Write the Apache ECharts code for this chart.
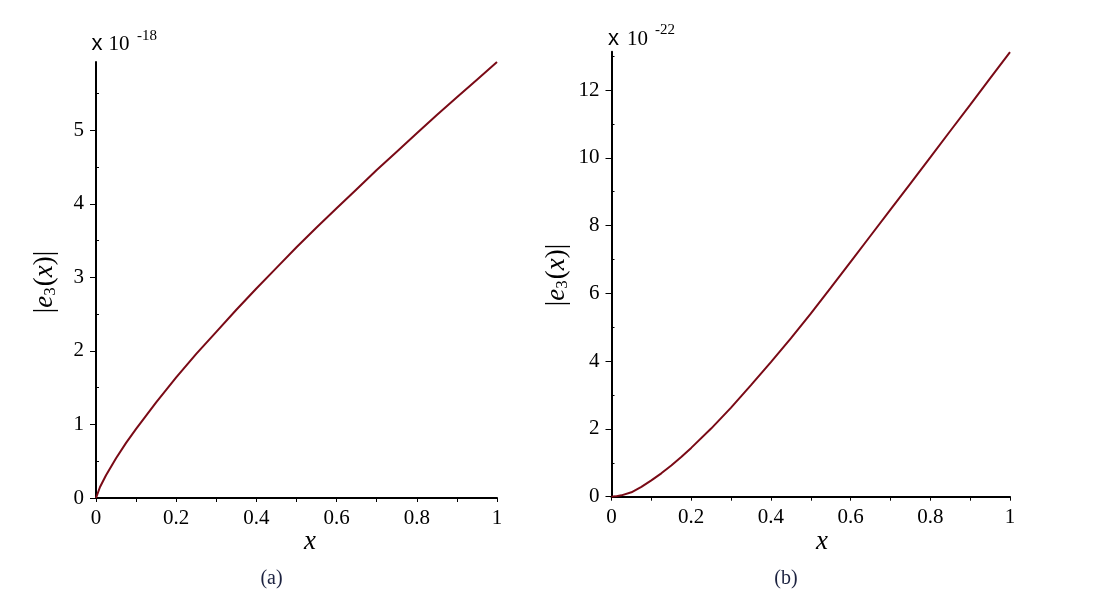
<!DOCTYPE html>
<html>
<head>
<meta charset="utf-8">
<script src="https://cdn.jsdelivr.net/npm/echarts@6/dist/echarts.min.js"></script>
<style>
html,body{margin:0;padding:0;background:#fff;}
#chart{width:1112px;height:602px;}
</style>
</head>
<body>
<div id="chart"></div>
<script>
// ---- data ----
const xValues = [0, 0.01, 0.025, 0.05, 0.075, 0.1, 0.125, 0.15, 0.175, 0.2, 0.25, 0.3, 0.35, 0.4, 0.45, 0.5, 0.55, 0.6, 0.65, 0.7, 0.75, 0.8, 0.85, 0.9, 0.95, 1];
// panel (a): |e3(x)| in units of 1e-18
const errA = [0, 0.15, 0.31, 0.54, 0.75, 0.94, 1.12, 1.30, 1.47, 1.64, 1.96, 2.26, 2.56, 2.85, 3.13, 3.41, 3.68, 3.94, 4.20, 4.46, 4.71, 4.96, 5.21, 5.45, 5.69, 5.93];
// panel (b): |e3(x)| in units of 1e-22
const errB = [0, 0.01, 0.04, 0.13, 0.29, 0.48, 0.69, 0.92, 1.17, 1.44, 2.01, 2.63, 3.29, 3.97, 4.67, 5.40, 6.16, 6.93, 7.70, 8.47, 9.24, 10.01, 10.79, 11.56, 12.34, 13.12];
const xTicks = [0, 0.1, 0.2, 0.3, 0.4, 0.5, 0.6, 0.7, 0.8, 0.9, 1];
const xLabels = [0, 0.2, 0.4, 0.6, 0.8, 1];
const yMajorA = [0, 1, 2, 3, 4, 5];
const yMinorA = [0.5, 1.5, 2.5, 3.5, 4.5, 5.5];
const yMajorB = [0, 2, 4, 6, 8, 10, 12];
const yMinorB = [1, 3, 5, 7, 9, 11, 13];
const yMaxA = 5.93;
const yMaxB = 13.13;
const exponentA = '-18';
const exponentB = '-22';
const captions = ['(a)', '(b)'];

const serif = '"Liberation Serif", "DejaVu Serif", serif';
const sans = '"Liberation Sans", Arial, sans-serif';
const lineColor = '#7a0a16';

function pairs(xs, ys) { return xs.map((x, i) => [x, ys[i]]); }

function xAxisFor(gridIndex) {
  return {
    type: 'value', gridIndex, min: 0, max: 1,
    axisLine: { show: true, onZero: false, lineStyle: { color: '#000', width: 2 } },
    axisTick: { show: true, customValues: xTicks, length: 4, inside: false, lineStyle: { color: '#000', width: 1 } },
    axisLabel: {
      customValues: xLabels,
      color: '#000', fontFamily: serif, fontSize: 21, margin: 10,
      formatter: v => String(Math.round(v * 10) / 10)
    },
    splitLine: { show: false }
  };
}
function yAxesFor(gridIndex, max, majors, minors) {
  return [
    {
      type: 'value', gridIndex, min: 0, max: max,
      axisLine: { show: true, onZero: false, lineStyle: { color: '#000', width: 2 } },
      axisTick: { show: true, customValues: majors, length: 6, lineStyle: { color: '#000', width: 1 } },
      axisLabel: { customValues: majors, color: '#000', fontFamily: serif, fontSize: 21, margin: 12 },
      splitLine: { show: false }
    },
    {
      type: 'value', gridIndex, min: 0, max: max,
      axisLine: { show: false },
      axisTick: { show: true, customValues: minors, length: 3, lineStyle: { color: '#000', width: 1 } },
      axisLabel: { show: false },
      splitLine: { show: false }
    }
  ];
}

function yName(cx, cy) {
  return {
    type: 'text', x: cx, y: cy, rotation: Math.PI / 2,
    style: {
      text: '{n||}{i|e}{s|3}{n|(}{i|x}{n|)|}',
      align: 'center', verticalAlign: 'middle',
      rich: {
        n: { fontFamily: serif, fontSize: 27, color: '#000' },
        i: { fontFamily: serif, fontStyle: 'italic', fontSize: 27, color: '#000' },
        s: { fontFamily: serif, fontSize: 17, color: '#000', padding: [12, 1, 0, 0] }
      }
    }
  };
}
function plain(text, x, y, font, size, color) {
  return {
    type: 'text', x, y,
    style: { text, fontFamily: font, fontSize: size, fill: color || '#000', align: 'left', verticalAlign: 'middle' }
  };
}

const chart = echarts.init(document.getElementById('chart'), null, { renderer: 'canvas' });
chart.setOption({
  backgroundColor: '#fff',
  animation: false,
  grid: [
    { left: 96, top: 62, width: 401, height: 436 },
    { left: 611.5, top: 51.7, width: 398.5, height: 445 }
  ],
  xAxis: [xAxisFor(0), xAxisFor(1)],
  yAxis: [
    ...yAxesFor(0, yMaxA, yMajorA, yMinorA),
    ...yAxesFor(1, yMaxB, yMajorB, yMinorB)
  ],
  series: [
    { type: 'line', xAxisIndex: 0, yAxisIndex: 0, data: pairs(xValues, errA), showSymbol: false, smooth: false, lineStyle: { color: lineColor, width: 2 } },
    { type: 'line', xAxisIndex: 1, yAxisIndex: 2, data: pairs(xValues, errB), showSymbol: false, smooth: false, lineStyle: { color: lineColor, width: 2 } }
  ],
  graphic: [
    plain('x', 91.5, 43.5, sans, 22),
    plain('10', 108.5, 44, serif, 21),
    plain(exponentA, 137, 36, serif, 15),
    plain('x', 608, 38.5, sans, 22),
    plain('10', 627, 39, serif, 21),
    plain(exponentB, 655, 30, serif, 15),
    yName(44.5, 282),
    yName(557, 275),
    { type: 'text', x: 310, y: 542, style: { text: 'x', fontFamily: serif, fontStyle: 'italic', fontSize: 27, fill: '#000', align: 'center', verticalAlign: 'middle' } },
    { type: 'text', x: 822, y: 542, style: { text: 'x', fontFamily: serif, fontStyle: 'italic', fontSize: 27, fill: '#000', align: 'center', verticalAlign: 'middle' } },
    { type: 'text', x: 271.5, y: 579, style: { text: captions[0], fontFamily: serif, fontSize: 20, fill: '#1c2240', align: 'center', verticalAlign: 'middle' } },
    { type: 'text', x: 786, y: 579, style: { text: captions[1], fontFamily: serif, fontSize: 20, fill: '#1c2240', align: 'center', verticalAlign: 'middle' } }
  ]
});
</script>
</body>
</html>
